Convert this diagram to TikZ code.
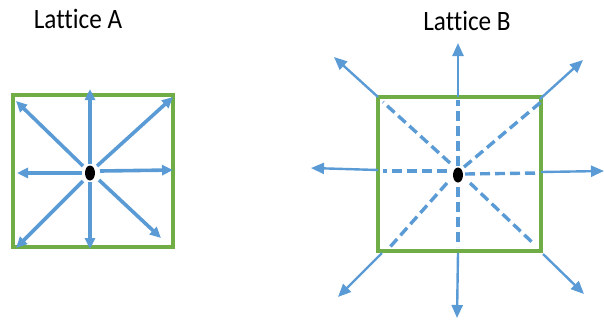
\documentclass[tikz,border=0pt]{standalone}
\usepackage{fontspec}
\setmainfont[Ligatures=CommonOff]{Carlito}
\usetikzlibrary{arrows.meta,shapes.geometric}
\definecolor{arrowblue}{HTML}{5B9BD5}
\definecolor{boxgreen}{HTML}{70AD47}
\tikzset{
  lattice/.style={draw=boxgreen, line width=4.5pt},
  centerdot/.style={ellipse, fill=black, minimum width=10pt, minimum height=15pt, inner sep=0pt},
  arrA/.style={draw=arrowblue, line width=3.6pt, -{Triangle[length=11pt,width=10pt]}},
  arrB/.style={draw=arrowblue, line width=2.4pt, -{Triangle[length=13pt,width=11pt]}},
  dashB/.style={draw=arrowblue, line width=3.4pt, dash pattern=on 10pt off 5pt},
  title/.style={font=\fontsize{28}{30}\selectfont, inner sep=0pt, xscale=0.9}
}
\begin{document}
\begin{tikzpicture}[x=1pt,y=-1pt]
\useasboundingbox (0,0) rectangle (604,322);
% titles
\node[title] (tA) at (78,19) {Lattice A};
\node[title] (tB) at (467,21) {Lattice B};
% ---------- Lattice A ----------
\draw[lattice] (13,95) rectangle (173,247);
\node[centerdot] (dA) at (90,173) {};
\coordinate (aUs) at (90,164);  \coordinate (aUt) at (90,89);
\coordinate (aDs) at (90,182);  \coordinate (aDt) at (90,249);
\coordinate (aLs) at (82,173);  \coordinate (aLt) at (17,173);
\coordinate (aRs) at (100,171); \coordinate (aRt) at (173,170);
\coordinate (aULs) at (83,166); \coordinate (aULt) at (16,101);
\coordinate (aURs) at (97,166); \coordinate (aURt) at (173,97);
\coordinate (aDLs) at (83,181); \coordinate (aDLt) at (16,248);
\coordinate (aDRs) at (99,180); \coordinate (aDRt) at (161,238);
\foreach \p in {U,D,L,R,UL,UR,DL,DR}{
  \draw[arrA] (a\p s) -- (a\p t);
}
% ---------- Lattice B ----------
\draw[lattice] (378,97) rectangle (541,251);
\node[centerdot] (dB) at (458,175) {};
% dashed inner lines
\coordinate (bULi) at (450,163); \coordinate (bULo) at (383,102);
\coordinate (bUi) at (458,166);  \coordinate (bUo) at (458,100);
\coordinate (bURi) at (464,167); \coordinate (bURo) at (541,102);
\coordinate (bRi) at (465,174);  \coordinate (bRo) at (540,173);
\coordinate (bDRi) at (470,183); \coordinate (bDRo) at (535,245);
\coordinate (bDi) at (458,187);  \coordinate (bDo) at (458,247);
\coordinate (bDLi) at (447,183); \coordinate (bDLo) at (390,247);
\coordinate (bLi) at (447,171);  \coordinate (bLo) at (383,171);
\foreach \p in {UL,U,UR,R,DR,D,DL,L}{
  \draw[dashB] (b\p i) -- (b\p o);
}
% solid outer arrows
\coordinate (bULs) at (378,97);  \coordinate (bULt) at (334,57);
\coordinate (bUs) at (458,97);   \coordinate (bUt) at (458,43);
\coordinate (bURs) at (540,99);  \coordinate (bURt) at (583,60);
\coordinate (bRs) at (541,172);  \coordinate (bRt) at (604,171);
\coordinate (bDRs) at (543,254); \coordinate (bDRt) at (584,294);
\coordinate (bDs) at (458,253);  \coordinate (bDt) at (457,318);
\coordinate (bDLs) at (382,253); \coordinate (bDLt) at (338,297);
\coordinate (bLs) at (378,170);  \coordinate (bLt) at (311,168);
\foreach \p in {UL,U,UR,R,DR,D,DL,L}{
  \draw[arrB] (b\p s) -- (b\p t);
}
\end{tikzpicture}
\end{document}
